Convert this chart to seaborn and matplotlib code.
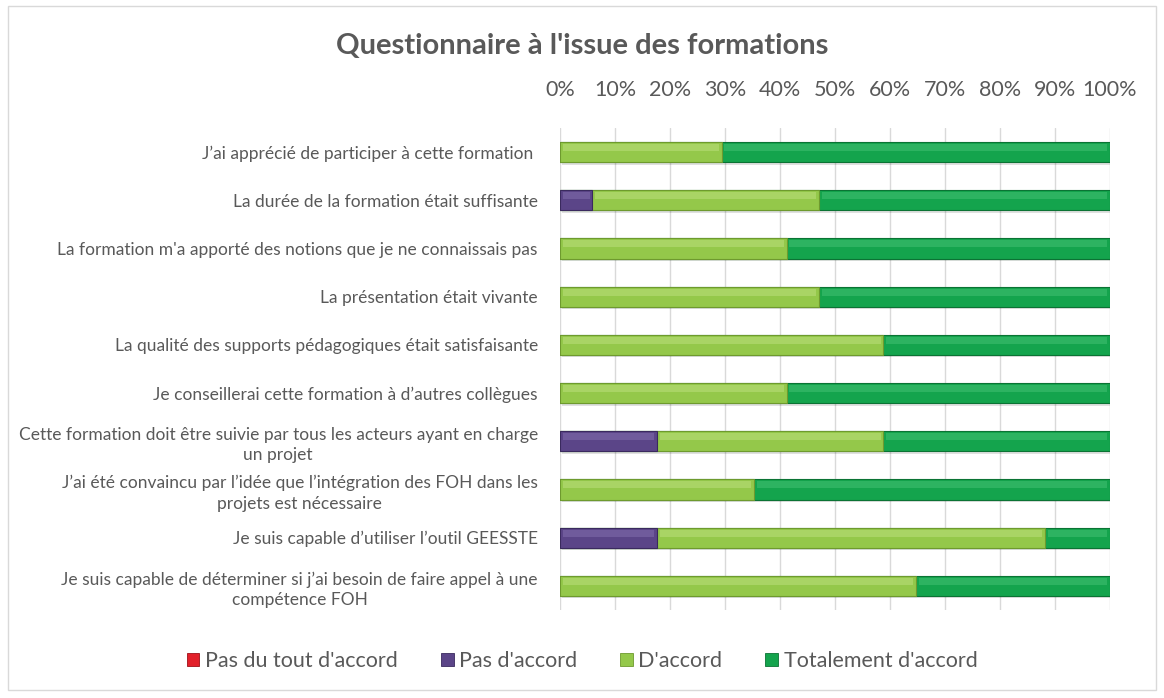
import numpy as np
import pandas as pd
import matplotlib
matplotlib.use("Agg")
import matplotlib.pyplot as plt
import seaborn as sns
from matplotlib.patches import Rectangle

questions = [
    "J\u2019ai apprécié de participer à cette formation ",
    "La durée de la formation était suffisante",
    "La formation m'a apporté des notions que je ne connaissais pas",
    "La présentation était vivante",
    "La qualité des supports pédagogiques était satisfaisante",
    "Je conseillerai cette formation à d\u2019autres collègues",
    "Cette formation doit être suivie par tous les acteurs ayant en charge\nun projet",
    "J\u2019ai été convaincu par l\u2019idée que l\u2019intégration des FOH dans les\nprojets est nécessaire",
    "Je suis capable d\u2019utiliser l\u2019outil GEESSTE",
    "Je suis capable de déterminer si j\u2019ai besoin de faire appel à une\ncompétence FOH",
]
pas_du_tout = [0, 0, 0, 0, 0, 0, 0, 0, 0, 0]
pas_accord = [0, 5.9, 0, 0, 0, 0, 17.6, 0, 17.6, 0]
accord = [29.4, 41.2, 41.2, 47.1, 58.8, 41.2, 41.2, 35.3, 70.6, 64.7]
totalement = [70.6, 52.9, 58.8, 52.9, 41.2, 58.8, 41.2, 64.7, 11.8, 35.3]
series_names = ["Pas du tout d'accord", "Pas d'accord", "D'accord", "Totalement d'accord"]
colors = ["#E2202A", "#5B4588", "#94C84A", "#14A44D"]
highlights = ["#F06A70", "#8A77B5", "#C3E486", "#4CC67A"]
edge_colors = ["#9E1017", "#3A2A5E", "#6E9A2E", "#0B7334"]

df = pd.DataFrame({"q": questions, "s1": pas_du_tout, "s2": pas_accord,
                   "s3": accord, "s4": totalement})
tot = df[["s1", "s2", "s3", "s4"]].sum(axis=1)
for c in ["s1", "s2", "s3", "s4"]:
    df[c] = df[c] / tot * 100
df["c1"] = df["s1"]
df["c2"] = df["c1"] + df["s2"]
df["c3"] = df["c2"] + df["s3"]
df["c4"] = df["c3"] + df["s4"]

sns.set_theme(style="white")
plt.rcParams["font.family"] = ["Lato", "DejaVu Sans"]
gray = "#595959"

fig = plt.figure(figsize=(11.64, 6.98), dpi=100)
ax = fig.add_axes([560 / 1164, 1 - 610 / 698, 550 / 1164, 482 / 698])

for cum, seg, col, hl, ec in zip(["c4", "c3", "c2", "c1"], ["s4", "s3", "s2", "s1"],
                                 colors[::-1], highlights[::-1], edge_colors[::-1]):
    n_before = len(ax.patches)
    sns.barplot(data=df, y="q", x=cum, orient="h", color=col, width=0.42,
                ax=ax, saturation=1, edgecolor=ec, linewidth=0.8, zorder=3)
    new = ax.patches[n_before:]
    for p, w in zip(new, df[seg]):
        if w <= 0:
            p.set_visible(False)
            continue
        x0 = p.get_x() + p.get_width() - w
        ax.add_patch(Rectangle((x0 + 0.3, p.get_y() + p.get_height()), w,
                               p.get_height() * 0.12, facecolor="#000000", alpha=0.12,
                               linewidth=0, zorder=2))
        ax.add_patch(Rectangle((x0 + 0.5, p.get_y() + p.get_height() * 0.1), w - 1.0,
                               p.get_height() * 0.35, facecolor=hl, alpha=0.45,
                               linewidth=0, zorder=4 + len(new)))

ax.set_xlim(0, 100)
ax.set_ylim(9.5, -0.5)
ax.xaxis.tick_top()
ax.set_xticks(np.arange(0, 101, 10))
ax.set_xticklabels([f"{v}%" for v in range(0, 101, 10)], fontsize=15.5, color=gray)
ax.tick_params(axis="x", length=0, pad=20)
ax.tick_params(axis="y", length=0, pad=16)
for lab in ax.get_yticklabels():
    lab.set_fontsize(12.5)
    lab.set_color(gray)
    lab.set_multialignment("center")
    lab.set_linespacing(1.35)
ax.set_xlabel("")
ax.set_ylabel("")
ax.grid(axis="x", color="#D9D9D9", linewidth=1, zorder=0)
ax.set_axisbelow(True)
for s in ax.spines.values():
    s.set_visible(False)

fig.text(0.5, 1 - 46 / 698, "Questionnaire à l'issue des formations", ha="center",
         va="center", fontsize=21, fontweight="bold", color=gray)

handles = [Rectangle((0, 0), 1, 1, facecolor=c, edgecolor=e, linewidth=0.6)
           for c, e in zip(colors, edge_colors)]
fig.legend(handles, series_names, loc="center", bbox_to_anchor=(0.5, 1 - 661 / 698),
           ncol=4, frameon=False, fontsize=15.5, handlelength=0.6, handleheight=0.6,
           handletextpad=0.25, columnspacing=2.0, labelcolor=gray)

fig.patches.append(Rectangle((8 / 1164, 1 - 690 / 698), 1148 / 1164, 684 / 698,
                             transform=fig.transFigure, fill=False,
                             edgecolor="#D9D9D9", linewidth=1))

fig.savefig("out.png", dpi=100)
